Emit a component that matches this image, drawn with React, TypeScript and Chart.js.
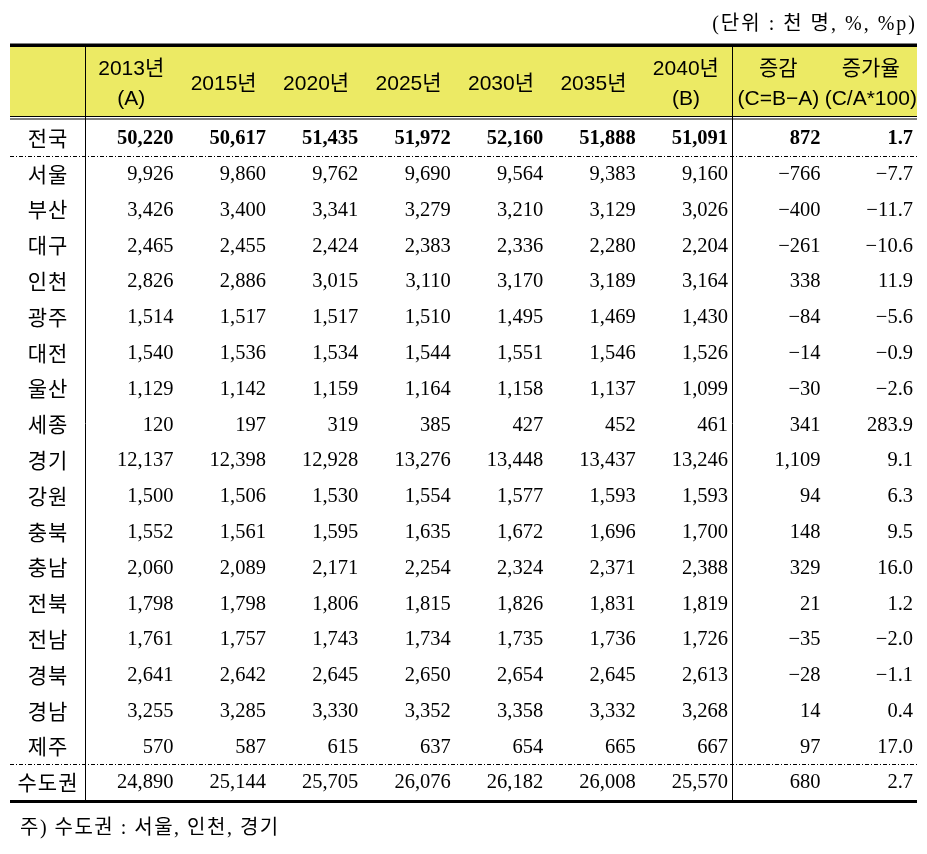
import React, { useEffect, useRef } from "react";
import { Chart, registerables } from "chart.js";

Chart.register(...registerables);

const regions = ["전국", "서울", "부산", "대구", "인천", "광주", "대전", "울산", "세종", "경기", "강원", "충북", "충남", "전북", "전남", "경북", "경남", "제주", "수도권"];
const columnKeys = ["y2013", "y2015", "y2020", "y2025", "y2030", "y2035", "y2040", "change", "rate"];
const columnHeaders = [["2013년", "(A)"], ["2015년"], ["2020년"], ["2025년"], ["2030년"], ["2035년"], ["2040년", "(B)"], ["증감", "(C=B−A)"], ["증가율", "(C/A*100)"]];

const pop2013 = [50220, 9926, 3426, 2465, 2826, 1514, 1540, 1129, 120, 12137, 1500, 1552, 2060, 1798, 1761, 2641, 3255, 570, 24890];
const pop2015 = [50617, 9860, 3400, 2455, 2886, 1517, 1536, 1142, 197, 12398, 1506, 1561, 2089, 1798, 1757, 2642, 3285, 587, 25144];
const pop2020 = [51435, 9762, 3341, 2424, 3015, 1517, 1534, 1159, 319, 12928, 1530, 1595, 2171, 1806, 1743, 2645, 3330, 615, 25705];
const pop2025 = [51972, 9690, 3279, 2383, 3110, 1510, 1544, 1164, 385, 13276, 1554, 1635, 2254, 1815, 1734, 2650, 3352, 637, 26076];
const pop2030 = [52160, 9564, 3210, 2336, 3170, 1495, 1551, 1158, 427, 13448, 1577, 1672, 2324, 1826, 1735, 2654, 3358, 654, 26182];
const pop2035 = [51888, 9383, 3129, 2280, 3189, 1469, 1546, 1137, 452, 13437, 1593, 1696, 2371, 1831, 1736, 2645, 3332, 665, 26008];
const pop2040 = [51091, 9160, 3026, 2204, 3164, 1430, 1526, 1099, 461, 13246, 1593, 1700, 2388, 1819, 1726, 2613, 3268, 667, 25570];
const change = [872, -766, -400, -261, 338, -84, -14, -30, 341, 1109, 94, 148, 329, 21, -35, -28, 14, 97, 680];
const rate = [1.7, -7.7, -11.7, -10.6, 11.9, -5.6, -0.9, -2.6, 283.9, 9.1, 6.3, 9.5, 16.0, 1.2, -2.0, -1.1, 0.4, 17.0, 2.7];

const columnValues = [pop2013, pop2015, pop2020, pop2025, pop2030, pop2035, pop2040, change, rate];
const columnDecimals = [0, 0, 0, 0, 0, 0, 0, 0, 1];

const unitText = "(단위 : 천 명, %, %p)";
const noteText = "주) 수도권 : 서울, 인천, 경기";

const HEADER_BG = "rgb(236, 234, 100)";
const NUM_FONT = "'Liberation Serif', 'Times New Roman', serif";
const HEAD_FONT = "'Liberation Sans', Arial, 'Noto Sans CJK KR', sans-serif";
const KO_FONT = "'Noto Sans CJK KR', sans-serif";

function formatValue(v: number, decimals: number): string {
  const abs = Math.abs(v);
  const s = decimals > 0 ? abs.toFixed(decimals) : abs.toLocaleString("en-US");
  return (v < 0 ? "−" : "") + s;
}

const tablePlugin = {
  id: "tablePlugin",
  beforeDatasetsDraw(chart: any) {
    const { ctx, chartArea, scales } = chart;
    const xs = scales.x;
    const ys = scales.y;
    const tableLeft = chartArea.left - 75;
    const tableRight = chartArea.right;
    const tableW = tableRight - tableLeft;
    const headTop = chartArea.top - 73;
    const headBottom = chartArea.top - 4;
    ctx.save();
    // header band
    ctx.fillStyle = HEADER_BG;
    ctx.fillRect(tableLeft, headTop, tableW, headBottom - headTop);
    ctx.fillStyle = "#000";
    ctx.fillRect(tableLeft, headTop - 3.5, tableW, 3.5);
    ctx.fillRect(tableLeft, headBottom, tableW, 1);
    ctx.fillRect(tableLeft, headBottom + 2.5, tableW, 1);
    ctx.fillRect(tableLeft, chartArea.bottom, tableW, 3);

    // vertical lines
    const divX = Math.round((xs.getPixelForValue(6) + xs.getPixelForValue(7)) / 2) + 0.5;
    ctx.strokeStyle = "#000";
    ctx.lineWidth = 1;
    ctx.beginPath();
    ctx.moveTo(chartArea.left + 0.5, headTop);
    ctx.lineTo(chartArea.left + 0.5, chartArea.bottom);
    ctx.moveTo(divX, headTop);
    ctx.lineTo(divX, chartArea.bottom);
    ctx.stroke();

    // dashed separators
    const rowBand = ys.getPixelForValue(1) - ys.getPixelForValue(0);
    const dashYs = [ys.getPixelForValue(0) + rowBand / 2, ys.getPixelForValue(regions.length - 1) - rowBand / 2];
    ctx.setLineDash([4, 2, 1, 2]);
    ctx.beginPath();
    dashYs.forEach((y: number) => {
      const yy = Math.round(y) + 0.5;
      ctx.moveTo(tableLeft, yy);
      ctx.lineTo(tableRight, yy);
    });
    ctx.stroke();
    ctx.setLineDash([]);

    // headers
    ctx.fillStyle = "#000";
    ctx.textAlign = "center";
    ctx.textBaseline = "middle";
    ctx.font = `21px ${HEAD_FONT}`;
    const headMid = (headTop + headBottom) / 2 + 2.5;
    columnHeaders.forEach((lines, i) => {
      const x = xs.getPixelForValue(i);
      if (lines.length === 1) {
        ctx.fillText(lines[0], x, headMid);
      } else {
        ctx.fillText(lines[0], x, headMid - 15);
        ctx.fillText(lines[1], x, headMid + 15);
      }
    });

    // row labels
    ctx.font = `21px ${KO_FONT}`;
    (ctx as any).letterSpacing = "1px";
    const labelX = (tableLeft + chartArea.left) / 2 + 0.5;
    regions.forEach((r, i) => {
      ctx.fillText(r, labelX, ys.getPixelForValue(i));
    });

    // unit and note
    ctx.font = `20px ${NUM_FONT}, ${KO_FONT}`;
    (ctx as any).letterSpacing = "2px";
    ctx.textAlign = "right";
    ctx.fillText(unitText, tableRight, headTop - 22);
    (ctx as any).letterSpacing = "1.5px";
    ctx.textAlign = "left";
    ctx.fillText(noteText, tableLeft + 10, chartArea.bottom + 29);
    (ctx as any).letterSpacing = "0px";
    ctx.restore();
  },
  afterDatasetsDraw(chart: any) {
    const { ctx, scales } = chart;
    const xs = scales.x;
    const band = xs.getPixelForValue(1) - xs.getPixelForValue(0);
    ctx.save();
    ctx.fillStyle = "#000";
    ctx.textAlign = "right";
    ctx.textBaseline = "middle";
    chart.data.datasets.forEach((ds: any, di: number) => {
      const meta = chart.getDatasetMeta(di);
      meta.data.forEach((el: any, i: number) => {
        const raw = ds.data[i];
        ctx.font = `${i === 0 ? "bold " : ""}20.5px ${NUM_FONT}`;
        ctx.fillText(formatValue(raw.v, columnDecimals[di]), el.x + band / 2 - 4, el.y + 1);
      });
    });
    ctx.restore();
  },
};

export default function App() {
  const canvasRef = useRef<HTMLCanvasElement | null>(null);
  useEffect(() => {
    if (!canvasRef.current) return;
    const chart = new Chart(canvasRef.current, {
      type: "scatter",
      data: {
        datasets: columnValues.map((vals, c) => ({
          label: columnKeys[c],
          data: vals.map((v, r) => ({ x: columnKeys[c], y: regions[r], v })),
          pointRadius: 0,
          pointHoverRadius: 0,
        })) as any,
      },
      options: {
        responsive: false,
        animation: false,
        events: [],
        layout: { padding: { left: 85, right: 10, top: 120, bottom: 54 } },
        plugins: { legend: { display: false }, tooltip: { enabled: false } },
        scales: {
          x: { type: "category", labels: columnKeys, offset: true, display: false },
          y: { type: "category", labels: regions, offset: true, display: false },
        },
      },
      plugins: [tablePlugin],
    });
    return () => chart.destroy();
  }, []);
  return (
    <div style={{ position: "fixed", left: 0, top: 0, width: 927, height: 854, background: "#fff" }}>
      <canvas ref={canvasRef} width={927} height={854} />
    </div>
  );
}
